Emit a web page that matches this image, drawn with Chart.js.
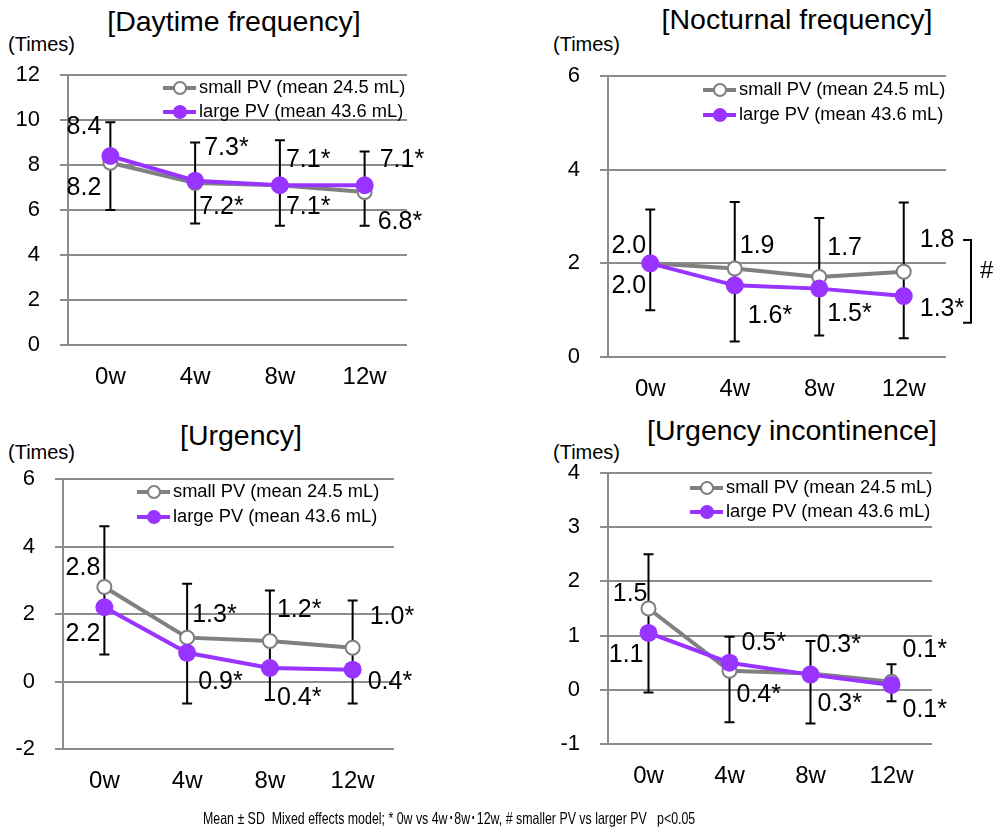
<!DOCTYPE html>
<html>
<head>
<meta charset="utf-8">
<script src="https://cdn.jsdelivr.net/npm/chart.js@4.4.1/dist/chart.umd.min.js"></script>
<style>
  body { margin: 0; background: #fff; width: 998px; height: 834px; position: relative; overflow: hidden;
         font-family: 'Liberation Sans', Arial, sans-serif; color: #000; }
  canvas { position: absolute; }
  .title { position: absolute; font-size: 28.5px; line-height: 1; white-space: nowrap; transform: translate(-50%, -50%); }
  .unit { position: absolute; font-size: 20px; line-height: 1; white-space: nowrap; transform: translateY(-50%); }
  .note { position: absolute; left: 203px; top: 818px; transform: translateY(-50%) scaleX(0.75); transform-origin: 0 50%;
          white-space: pre; font-size: 16.5px; line-height: 1; }
</style>
</head>
<body>
<div class="title" style="left:234px;top:21px">[Daytime frequency]</div>
<div class="title" style="left:797px;top:19px">[Nocturnal frequency]</div>
<div class="title" style="left:241px;top:435px">[Urgency]</div>
<div class="title" style="left:792px;top:430px">[Urgency incontinence]</div>
<div class="unit" style="left:8px;top:44px">(Times)</div>
<div class="unit" style="left:553px;top:44px">(Times)</div>
<div class="unit" style="left:8px;top:452px">(Times)</div>
<div class="unit" style="left:553px;top:452px">(Times)</div>
<canvas id="cDay" width="480" height="400" style="left:0;top:0"></canvas>
<canvas id="cNight" width="498" height="410" style="left:500px;top:0"></canvas>
<canvas id="cUrg" width="480" height="400" style="left:0;top:410px"></canvas>
<canvas id="cInc" width="498" height="400" style="left:500px;top:410px"></canvas>
<div class="note">Mean ± SD  Mixed effects model; * 0w vs 4w･8w･12w, # smaller PV vs larger PV   p&lt;0.05</div>

<script>
const weeks = ['0w', '4w', '8w', '12w'];
const seriesNames = ['small PV (mean 24.5 mL)', 'large PV (mean 43.6 mL)'];

// [Daytime frequency]
const dayTicks = [0, 2, 4, 6, 8, 10, 12];
const daySmall = [8.1, 7.2, 7.1, 6.8];
const dayLarge = [8.4, 7.3, 7.1, 7.1];
const daySmallSD = [1.8, 1.8, 2.0, 1.8];
const dayLargeSD = [2.4, 1.9, 1.8, 1.8];
const daySmallText = ['8.2', '7.2*', '7.1*', '6.8*'];
const dayLargeText = ['8.4', '7.3*', '7.1*', '7.1*'];

// [Nocturnal frequency]
const nightTicks = [0, 2, 4, 6];
const nightSmall = [2.0, 1.89, 1.71, 1.82];
const nightLarge = [2.0, 1.53, 1.46, 1.30];
const nightSmallSD = [1.15, 1.42, 1.26, 1.48];
const nightLargeSD = [1.0, 1.2, 1.0, 0.9];
const nightSmallText = ['2.0', '1.9', '1.7', '1.8'];
const nightLargeText = ['2.0', '1.6*', '1.5*', '1.3*'];

// [Urgency]
const urgTicks = [-2, 0, 2, 4, 6];
const urgSmall = [2.8, 1.3, 1.2, 1.0];
const urgLarge = [2.2, 0.85, 0.4, 0.35];
const urgSmallSD = [1.8, 1.6, 1.5, 1.4];
const urgLargeSD = [1.4, 1.5, 0.95, 1.0];
const urgSmallText = ['2.8', '1.3*', '1.2*', '1.0*'];
const urgLargeText = ['2.2', '0.9*', '0.4*', '0.4*'];

// [Urgency incontinence]
const incTicks = [-1, 0, 1, 2, 3, 4];
const incSmall = [1.5, 0.35, 0.3, 0.15];
const incLarge = [1.05, 0.5, 0.28, 0.09];
const incSmallSD = [1.0, 0.63, 0.6, 0.32];
const incLargeSD = [1.1, 1.1, 0.9, 0.3];
const incSmallText = ['1.5', '0.4*', '0.3*', '0.1*'];
const incLargeText = ['1.1', '0.5*', '0.3*', '0.1*'];

const FONT = "'Liberation Sans', Arial, sans-serif";
const GRID = '#8c8c8c';
const GRAY = '#808080';
const PURPLE = '#9933ff';

// layout: canvas box, plot area (page px), label offsets [dx, dy, align] from each point
const panels = [
  {
    canvas: 'cDay', box: { left: 0, top: 0, w: 480, h: 400 }, area: { left: 68, right: 407, top: 75, bottom: 345 },
    ticks: dayTicks, small: daySmall, large: dayLarge, smallSD: daySmallSD, largeSD: dayLargeSD,
    smallText: daySmallText, largeText: dayLargeText,
    smallPos: [[-9, 25, 'right'], [4, 24, 'left'], [6, 22, 'left'], [13, 30, 'left']],
    largePos: [[-9, -29, 'right'], [9, -33, 'left'], [6, -25, 'left'], [15, -25, 'left']],
    legendX: 131, legendY: [13, 37]
  },
  {
    canvas: 'cNight', box: { left: 500, top: 0, w: 498, h: 410 }, area: { left: 608, right: 946, top: 76, bottom: 357 },
    ticks: nightTicks, small: nightSmall, large: nightLarge, smallSD: nightSmallSD, largeSD: nightLargeSD,
    smallText: nightSmallText, largeText: nightLargeText,
    smallPos: [[-4, -17, 'right'], [5, -22, 'left'], [8, -29, 'left'], [16, -32, 'left']],
    largePos: [[-4, 23, 'right'], [13, 31, 'left'], [8, 25, 'left'], [16, 13, 'left']],
    legendX: 131, legendY: [14, 39],
    bracket: { dx: 25, from: 2.5, to: 0.73, hashDx: 34 }
  },
  {
    canvas: 'cUrg', box: { left: 0, top: 410, w: 480, h: 400 }, area: { left: 63, right: 394, top: 479, bottom: 749 },
    ticks: urgTicks, small: urgSmall, large: urgLarge, smallSD: urgSmallSD, largeSD: urgLargeSD,
    smallText: urgSmallText, largeText: urgLargeText,
    smallPos: [[-4, -19, 'right'], [5, -23, 'left'], [7, -31, 'left'], [17, -31, 'left']],
    largePos: [[-4, 27, 'right'], [11, 29, 'left'], [7, 30, 'left'], [15, 12, 'left']],
    legendX: 110, legendY: [13, 38]
  },
  {
    canvas: 'cInc', box: { left: 500, top: 410, w: 498, h: 400 }, area: { left: 608, right: 932, top: 473, bottom: 744 },
    ticks: incTicks, small: incSmall, large: incLarge, smallSD: incSmallSD, largeSD: incLargeSD,
    smallText: incSmallText, largeText: incLargeText,
    smallPos: [[-1, -14, 'right'], [7, 24, 'left'], [7, 31, 'left'], [11, 28, 'left']],
    largePos: [[-5, 22, 'right'], [12, -20, 'left'], [6, -30, 'left'], [11, -35, 'left']],
    legendX: 118, legendY: [15, 39]
  }
];

function makeDecor(p) {
  return {
    id: 'decor',
    beforeDatasetsDraw(chart) {
      // error bars: small + SD upward, large - SD downward
      const ctx = chart.ctx, xs = chart.scales.x, ys = chart.scales.y;
      ctx.save();
      ctx.strokeStyle = '#000';
      ctx.lineWidth = 2;
      p.small.forEach((v, i) => {
        const x = xs.getPixelForValue(i);
        const top = ys.getPixelForValue(v + p.smallSD[i]);
        const bot = ys.getPixelForValue(p.large[i] - p.largeSD[i]);
        ctx.beginPath();
        ctx.moveTo(x, bot); ctx.lineTo(x, top);
        ctx.moveTo(x - 5, top); ctx.lineTo(x + 5, top);
        ctx.moveTo(x - 5, bot); ctx.lineTo(x + 5, bot);
        ctx.stroke();
      });
      ctx.restore();
    },
    afterDatasetsDraw(chart) {
      const ctx = chart.ctx, xs = chart.scales.x, ys = chart.scales.y, area = chart.chartArea;
      ctx.save();
      ctx.fillStyle = '#000';
      ctx.textBaseline = 'middle';
      ctx.font = '25px ' + FONT;
      const put = (vals, texts, pos) => vals.forEach((v, i) => {
        ctx.textAlign = pos[i][2];
        ctx.fillText(texts[i], xs.getPixelForValue(i) + pos[i][0], ys.getPixelForValue(v) + pos[i][1]);
      });
      put(p.small, p.smallText, p.smallPos);
      put(p.large, p.largeText, p.largePos);

      // legend inside plot area
      const styles = [
        { color: GRAY, r: 6, fill: '#fff' },
        { color: PURPLE, r: 7, fill: PURPLE }
      ];
      ctx.font = '18.3px ' + FONT;
      ctx.textAlign = 'left';
      seriesNames.forEach((name, i) => {
        const tx = area.left + p.legendX;
        const ty = area.top + p.legendY[i];
        const s = styles[i];
        ctx.strokeStyle = s.color;
        ctx.lineWidth = 4;
        ctx.beginPath(); ctx.moveTo(tx - 36, ty); ctx.lineTo(tx - 3, ty); ctx.stroke();
        ctx.beginPath(); ctx.arc(tx - 19, ty, s.r, 0, Math.PI * 2);
        ctx.fillStyle = s.fill; ctx.fill();
        if (i === 0) { ctx.lineWidth = 2; ctx.stroke(); }
        ctx.fillStyle = '#000';
        ctx.fillText(name, tx, ty);
      });

      // significance bracket between groups
      if (p.bracket) {
        const b = p.bracket;
        const bx = area.right + b.dx;
        const y1 = ys.getPixelForValue(b.from), y2 = ys.getPixelForValue(b.to);
        ctx.strokeStyle = '#000';
        ctx.lineWidth = 2;
        ctx.beginPath();
        ctx.moveTo(bx - 8, y1); ctx.lineTo(bx, y1); ctx.lineTo(bx, y2); ctx.lineTo(bx - 8, y2);
        ctx.stroke();
        ctx.font = '24px ' + FONT;
        ctx.fillText('#', area.right + b.hashDx, (y1 + y2) / 2 - 10);
      }
      ctx.restore();
    }
  };
}

panels.forEach(p => {
  const t = p.ticks;
  const yWidth = p.area.left - p.box.left;
  const xHeight = p.box.top + p.box.h - p.area.bottom;
  new Chart(document.getElementById(p.canvas), {
    type: 'line',
    data: {
      labels: weeks,
      datasets: [
        {
          label: seriesNames[0], data: p.small, order: 1,
          borderColor: GRAY, borderWidth: 4,
          pointRadius: 7, pointBorderWidth: 2, pointBorderColor: GRAY, pointBackgroundColor: '#fff'
        },
        {
          label: seriesNames[1], data: p.large, order: 0,
          borderColor: PURPLE, borderWidth: 4,
          pointRadius: 9, pointBorderWidth: 0, pointBorderColor: PURPLE, pointBackgroundColor: PURPLE
        }
      ]
    },
    options: {
      responsive: false,
      animation: false,
      layout: { padding: { left: 0, top: p.area.top - p.box.top, right: p.box.left + p.box.w - p.area.right, bottom: 0 } },
      plugins: { legend: { display: false }, tooltip: { enabled: false } },
      scales: {
        x: {
          offset: true,
          grid: { display: false, drawTicks: false },
          border: { display: false },
          ticks: { color: '#000', font: { size: 24, family: FONT }, padding: 18 },
          afterFit: s => { s.height = xHeight; }
        },
        y: {
          min: t[0], max: t[t.length - 1],
          grid: { color: GRID, lineWidth: 2, tickLength: 8 },
          border: { color: GRID, width: 2 },
          ticks: { stepSize: t[1] - t[0], color: '#000', font: { size: 22, family: FONT }, padding: 20 },
          afterFit: s => { s.width = yWidth; }
        }
      }
    },
    plugins: [makeDecor(p)]
  });
});
</script>
</body>
</html>
